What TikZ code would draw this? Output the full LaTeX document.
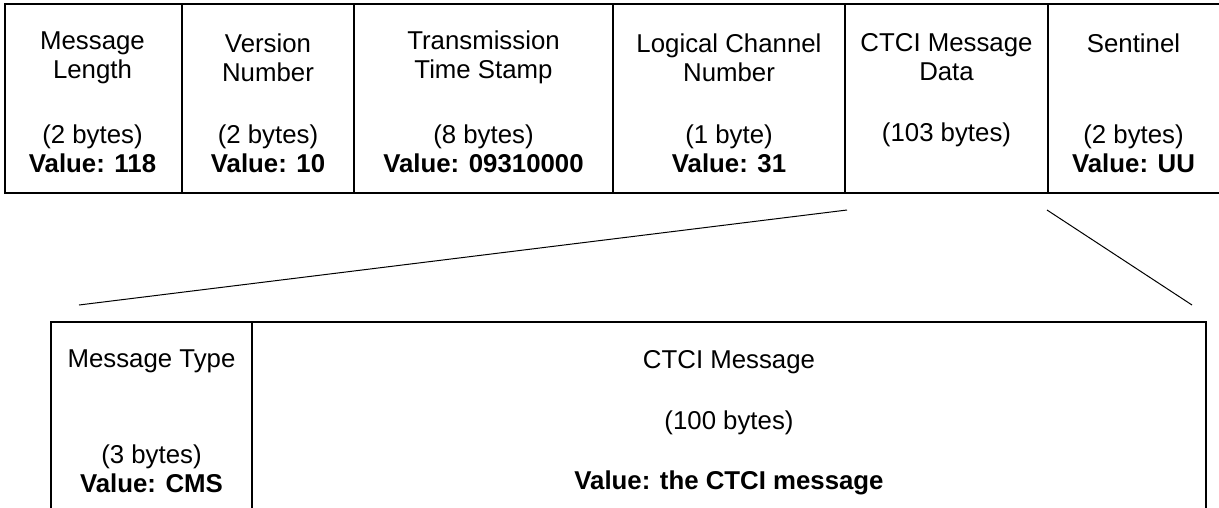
\documentclass[tikz,border=0pt]{standalone}
\usepackage{fontspec}
\setmainfont{Liberation Sans}
\begin{document}
\begin{tikzpicture}[x=1pt,y=-1pt,
  lbl/.style={inner sep=0pt, align=center, font=\fontsize{25.8}{29}\selectfont},
  frametop/.style={line width=1.8pt, black},
  framelow/.style={line width=1.3pt, black},
  zoomline/.style={line width=1pt, black}]
\useasboundingbox (0,0) rectangle (1219,507);
% top frame
\draw[frametop] (1222,4) -- (5,4) -- (5,193) -- (1222,193);
\foreach \x in {182,354,613,845,1048} \draw[frametop] (\x,4) -- (\x,193);
% top texts
\node[lbl] (mlt) at (92.5,57.5) {Message\\Length};
\node[lbl] (mlv) at (92.5,149) {(2 bytes)\\\textbf{Value: 118}};
\node[lbl] (vnt) at (268,57.5) {Version\\Number};
\node[lbl] (vnv) at (268,149) {(2 bytes)\\\textbf{Value: 10}};
\node[lbl] (tst) at (483.5,57.5) {Transmission\\Time Stamp};
\node[lbl] (tsv) at (483.5,149) {(8 bytes)\\\textbf{Value: 09310000}};
\node[lbl] (lct) at (729,57.5) {Logical Channel\\Number};
\node[lbl] (lcv) at (729,149) {(1 byte)\\\textbf{Value: 31}};
\node[lbl] (cdt) at (946.5,57.5) {CTCI Message\\Data};
\node[lbl] (cdv) at (946.5,135) {(103 bytes)};
\node[lbl] (snt) at (1133.5,43) {Sentinel};
\node[lbl] (snv) at (1133.5,149) {(2 bytes)\\\textbf{Value: UU}};
% lower box
\draw[framelow] (51,510) -- (51,322) -- (1206,322) -- (1206,510);
\draw[framelow] (252,322) -- (252,510);
\node[lbl] (mtt) at (151.5,361) {Message Type};
\node[lbl] (mtv) at (151.5,469) {(3 bytes)\\\textbf{Value: CMS}};
\node[lbl] (cmt) at (729,362) {CTCI Message};
\node[lbl] (cmb) at (729,423) {(100 bytes)};
\node[lbl] (cmv) at (729,483) {\textbf{Value: the CTCI message}};
% zoom lines
\coordinate (za) at (847,210);
\coordinate (zb) at (1047,210);
\coordinate (la) at (79,305);
\coordinate (lb) at (1192,305);
\draw[zoomline] (za) -- (la);
\draw[zoomline] (zb) -- (lb);
\end{tikzpicture}
\end{document}
